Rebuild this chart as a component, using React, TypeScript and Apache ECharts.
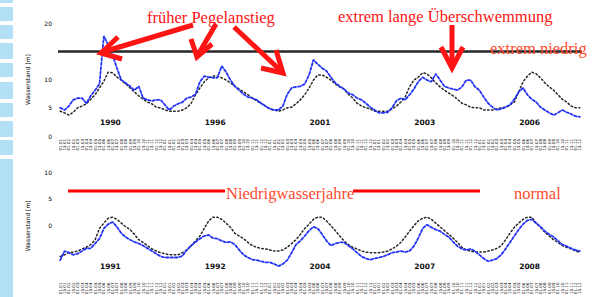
import React, { useEffect, useRef } from "react";
import * as echarts from "echarts";

// half-monthly tick labels (repeated each year)
const tickLabels = [
  "01.01", "15.01", "01.02", "15.02", "01.03", "15.03", "01.04", "15.04",
  "01.05", "15.05", "01.06", "15.06", "01.07", "15.07", "01.08", "15.08",
  "01.09", "15.09", "01.10", "15.10", "01.11", "15.11", "01.12", "15.12",
];
const topYears = ["1990", "1996", "2001", "2003", "2006"];
const bottomYears = ["1991", "1992", "2004", "2007", "2008"];
const lowLevel = 15;

const topBlue = [
  5.0, 4.6, 5.3, 6.4, 6.7, 6.7, 5.8, 7.1, 8.1, 9.2, 17.7, 16.1, 14.3, 12.0, 9.9, 9.4, 8.8, 8.1, 8.8, 6.7, 6.4, 6.2, 6.4, 6.4,
  5.5, 4.6, 5.3, 5.7, 6.0, 6.7, 6.9, 7.4, 9.6, 10.6, 10.4, 10.3, 10.3, 12.4, 11.3, 9.9, 8.8, 8.1, 7.4, 6.9, 6.7, 6.4, 5.8, 5.3,
  4.8, 4.6, 4.6, 5.3, 7.4, 8.5, 8.7, 8.8, 9.2, 10.8, 13.5, 12.7, 12.0, 11.5, 10.4, 9.4, 8.8, 8.3, 7.6, 7.3, 6.7, 6.4, 5.8, 5.1,
  4.6, 4.1, 4.1, 4.2, 5.0, 6.2, 6.7, 6.4, 7.3, 8.3, 9.6, 10.4, 9.9, 9.6, 11.0, 9.9, 8.8, 8.5, 8.3, 8.1, 8.7, 9.9, 9.9, 8.7,
  8.1, 6.9, 5.8, 5.1, 4.6, 4.8, 5.1, 5.5, 6.5, 7.8, 8.5, 7.3, 6.5, 6.0, 5.1, 4.6, 4.1, 3.7, 4.1, 4.6, 4.2, 3.9, 3.5, 3.4,
];
const topBlack = [
  4.4, 4.1, 3.7, 4.2, 5.0, 5.3, 5.7, 6.5, 7.3, 8.5, 9.7, 11.3, 11.2, 10.4, 9.9, 9.2, 8.5, 7.8, 7.1, 6.5, 6.0, 5.7, 5.1, 5.0,
  4.6, 4.4, 4.4, 4.4, 4.6, 5.0, 5.8, 7.3, 8.5, 9.6, 10.3, 10.6, 10.6, 10.3, 9.9, 9.4, 8.8, 8.3, 7.8, 7.3, 6.7, 6.2, 5.8, 5.3,
  4.8, 4.6, 4.4, 4.6, 5.0, 5.1, 5.7, 6.4, 7.3, 8.5, 9.9, 10.8, 10.8, 10.4, 9.9, 9.2, 8.7, 8.3, 7.4, 6.7, 5.8, 5.3, 5.0, 4.8,
  4.4, 4.4, 4.4, 4.4, 4.8, 5.3, 6.0, 6.9, 8.7, 9.9, 10.4, 11.2, 11.0, 10.3, 9.4, 8.7, 8.1, 7.6, 7.1, 6.5, 5.8, 5.5, 5.1, 5.0,
  5.0, 4.6, 4.6, 4.6, 4.8, 5.0, 5.1, 5.5, 6.0, 7.8, 9.6, 10.6, 11.3, 11.0, 10.3, 9.4, 8.7, 8.1, 7.3, 6.5, 6.0, 5.3, 5.0, 5.0,
];
const bottomBlue = [
  -6.4, -4.7, -5.0, -5.4, -5.2, -4.7, -4.2, -4.2, -3.3, -2.4, -0.5, 0.3, 0.7, -0.2, -1.4, -2.1, -2.6, -3.0, -3.3, -3.7, -4.2, -4.7, -5.2, -5.7,
  -5.9, -5.9, -5.9, -5.9, -5.6, -4.5, -3.7, -3.0, -2.4, -1.9, -1.7, -2.3, -2.4, -2.8, -3.1, -3.0, -3.5, -4.5, -5.4, -5.9, -6.3, -6.4, -6.6, -6.8,
  -6.8, -7.1, -7.5, -7.1, -6.4, -5.0, -3.5, -2.8, -1.9, -0.9, -0.2, -0.5, -1.6, -2.8, -3.7, -3.3, -3.1, -3.1, -3.7, -4.3, -5.0, -5.7, -6.1, -6.3,
  -6.1, -5.9, -5.7, -5.4, -5.0, -4.9, -4.7, -4.9, -4.7, -3.8, -2.3, -0.5, 0.2, -0.3, -0.7, -1.0, -1.6, -2.1, -3.0, -3.8, -4.3, -4.5, -4.3, -4.7,
  -5.4, -6.1, -6.6, -6.4, -6.1, -5.4, -4.3, -3.1, -1.9, -0.7, 0.3, 1.0, 1.2, 0.5, -0.2, -1.0, -1.6, -2.1, -2.8, -3.5, -3.8, -4.2, -4.5, -4.7,
];
const bottomBlack = [
  -5.7, -5.4, -5.0, -4.9, -4.7, -4.3, -4.0, -3.5, -2.6, -0.5, 0.5, 1.4, 1.6, 1.2, 0.5, -0.2, -0.7, -1.6, -2.6, -3.1, -3.7, -4.3, -4.7, -5.0,
  -5.2, -5.4, -5.4, -5.4, -5.0, -4.5, -3.7, -2.8, -1.9, -0.5, 0.9, 1.6, 1.6, 1.2, 0.5, -0.3, -1.4, -1.9, -2.4, -3.1, -3.7, -4.0, -4.2, -4.3,
  -4.5, -4.7, -4.7, -4.5, -4.0, -3.3, -2.6, -1.6, -0.5, 0.3, 1.2, 1.6, 1.6, 0.9, 0.0, -0.9, -1.9, -2.8, -3.5, -4.0, -4.3, -4.7, -4.9, -5.0,
  -5.0, -5.0, -4.9, -4.7, -4.3, -3.8, -3.1, -2.1, -1.0, 0.0, 0.9, 1.4, 1.6, 1.2, 0.5, -0.2, -0.9, -1.6, -2.3, -3.1, -4.0, -4.5, -4.7, -4.9,
  -4.9, -4.9, -4.7, -4.5, -4.2, -3.7, -2.6, -1.4, -0.3, 0.5, 1.2, 1.6, 1.6, 0.5, -0.3, -1.2, -1.9, -2.6, -3.1, -3.7, -4.0, -4.3, -4.7, -4.9,
];

const BLUE = "#2233f5";
const BLACK = "#262626";
const RED = "#ff1414";
const ORANGE = "#ff4a2e";
const SERIF = '"Liberation Serif", "DejaVu Serif", serif';

export default function App() {
  const ref = useRef<HTMLDivElement>(null);

  useEffect(() => {
    if (!ref.current) return;
    const chart = echarts.init(ref.current, null, { renderer: "svg" });
    const cats = topBlue.map((_, i) => String(i));

    const mainX = (gridIndex: number) => ({
      type: "category",
      gridIndex,
      data: cats,
      boundaryGap: true,
      axisLine: { show: false },
      axisTick: { show: false },
      splitLine: { show: false },
      axisLabel: {
        interval: 0,
        rotate: 90,
        fontSize: 4,
        margin: 3,
        color: "#000",
        fontFamily: "DejaVu Sans",
        formatter: (_v: string, idx: number) => tickLabels[idx % tickLabels.length],
      },
    });
    const yearX = (gridIndex: number, years: string[], offset: number) => ({
      type: "category",
      gridIndex,
      data: years,
      position: "bottom",
      offset,
      boundaryGap: true,
      axisLine: { show: false },
      axisTick: { show: false },
      splitLine: { show: false },
      axisLabel: { fontSize: 7.5, fontWeight: "bold", margin: 0, color: "#111", fontFamily: "DejaVu Sans" },
    });
    const yAx = (gridIndex: number, min: number, max: number, hide: (v: number) => boolean) => ({
      type: "value",
      gridIndex,
      min,
      max,
      interval: 5,
      name: "Wasserstand [m]",
      nameLocation: "middle",
      nameRotate: 90,
      nameGap: 28,
      nameTextStyle: { fontSize: 6, color: "#000", fontFamily: "DejaVu Sans" },
      axisLine: { show: false },
      axisTick: { show: false },
      splitLine: { show: false },
      axisLabel: {
        fontSize: 6,
        margin: 6,
        color: "#000",
        fontFamily: "DejaVu Sans",
        formatter: (v: number) => (hide(v) ? "" : String(v)),
      },
    });

    const lineSeries = (data: number[], xi: number, yi: number, color: string, width: number, dash: number[], z: number, extra: any = {}) => ({
      type: "line",
      xAxisIndex: xi,
      yAxisIndex: yi,
      data,
      symbol: "none",
      z,
      lineStyle: { color, width, type: dash, cap: "round" },
      ...extra,
    });

    const stripRows = [[0, 3], [7, 21], [25, 39], [43, 59], [63, 77], [82, 99], [103, 117], [121, 137], [140, 155], [159, 297]];
    const strip = stripRows.map(([a, b]) => ({
      type: "rect",
      shape: { x: 0, y: a, width: 13, height: b - a },
      style: { fill: "#b4e0f7" },
      silent: true,
    }));

    const arrows = [
      { shaft: [[193, 25], [106, 51]], head: [[118, 37], [101, 53], [122, 59]] },
      { shaft: [[216, 24], [199, 53]], head: [[191, 39], [197, 57], [212, 44]] },
      { shaft: [[234, 27], [280, 70]], head: [[276, 50], [283, 73], [261, 68]] },
      { shaft: [[452, 25], [452, 65]], head: [[441, 47], [452, 68], [463, 47]] },
    ];
    const arrowEls: any[] = [];
    arrows.forEach((a) => {
      arrowEls.push({
        type: "polyline",
        shape: { points: a.shaft },
        style: { stroke: RED, lineWidth: 5, fill: "none", lineCap: "butt" },
        z: 100,
      });
      arrowEls.push({
        type: "polyline",
        shape: { points: a.head },
        style: { stroke: RED, lineWidth: 5, fill: "none", lineJoin: "miter", lineCap: "butt" },
        z: 100,
      });
    });

    const txt = (text: string, x: number, y: number, fill: string) => ({
      type: "text",
      x,
      y,
      z: 110,
      style: { text, fill, fontSize: 16.5, fontFamily: SERIF, align: "left", verticalAlign: "middle" },
    });

    const option: any = {
      animation: false,
      backgroundColor: "#ffffff",
      grid: [
        { left: 58, width: 524, top: 23, height: 113 },
        { left: 58, width: 524, top: 172, height: 115 },
      ],
      xAxis: [mainX(0), yearX(0, topYears, -18), mainX(1), yearX(1, bottomYears, -17)],
      yAxis: [yAx(0, 0, 20, (v) => v === 15), yAx(1, -10, 10, (v) => v < 0)],
      series: [
        lineSeries(topBlack, 0, 0, BLACK, 1.5, [1.5, 2.5], 2, {
          markLine: {
            silent: true,
            symbol: ["none", "none"],
            label: { show: false },
            lineStyle: { color: "#262626", width: 2.6, type: "solid" },
            data: [{ yAxis: lowLevel }],
          },
        }),
        lineSeries(topBlue, 0, 0, BLUE, 1.8, [2.5, 2], 3),
        lineSeries(bottomBlack, 2, 1, BLACK, 1.5, [1.5, 2.5], 2),
        lineSeries(bottomBlue, 2, 1, BLUE, 1.8, [2.5, 2], 3),
      ],
      graphic: [
        ...strip,
        { type: "line", shape: { x1: 68, y1: 191, x2: 225, y2: 191 }, style: { stroke: "#ff0000", lineWidth: 3 }, z: 100 },
        { type: "line", shape: { x1: 353, y1: 191, x2: 480, y2: 191 }, style: { stroke: "#ff0000", lineWidth: 3 }, z: 100 },
        ...arrowEls,
        txt("früher Pegelanstieg", 147, 17, RED),
        txt("extrem lange Überschwemmung", 338, 16, RED),
        txt("extrem niedrig", 490, 48, ORANGE),
        txt("Niedrigwasserjahre", 226, 193, ORANGE),
        txt("normal", 514, 193, ORANGE),
      ],
    };

    chart.setOption(option);
    return () => chart.dispose();
  }, []);

  return (
    <div
      ref={ref}
      style={{ position: "absolute", left: 0, top: 0, width: 601, height: 297, background: "#fff" }}
    />
  );
}
